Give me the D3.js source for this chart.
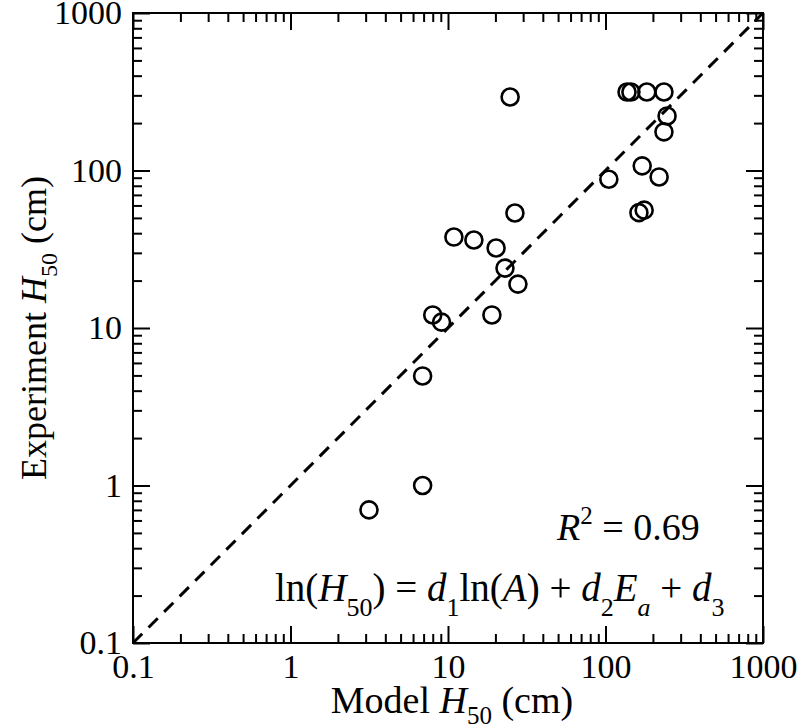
<!DOCTYPE html>
<html lang="en">
<head>
    <meta charset="UTF-8">
    <title>Model vs Experiment H50</title>
    <script src="https://d3js.org/d3.v7.min.js"></script>
    <style>
        body {
            margin: 0;
            background: #fff;
        }
        svg {
            font-family: "Liberation Serif", "Times New Roman", serif;
        }
    </style>
</head>
<body>
    <div id="chart"></div>
    <script>
        // Model vs experiment H50 (cm)
        var modelH50 = [3.15, 6.9, 6.9, 8.0, 9.1, 10.9, 14.6, 20.2, 23, 26.6, 27.8, 19,
                        24.8, 105, 137, 145, 183, 235, 246, 235, 171, 219, 163, 176];
        var expH50 = [0.70, 1.0, 4.96, 12.1, 10.9, 37.8, 36.2, 32.2, 24, 53.7, 19, 12.1,
                      293, 88, 315, 315, 315, 315, 222, 176, 107, 91, 54, 56];

        var majorTicks = [0.1, 1, 10, 100, 1000];
        var majorTickLabels = ["0.1", "1", "10", "100", "1000"];

        var width = 800,
            height = 728,
            pLeft = 133, pRight = 763,
            pTop = 13, pBottom = 643;

        var svg = d3.select("#chart").append("svg")
            .attr("width", width)
            .attr("height", height);

        var x = d3.scaleLog().domain([0.1, 1000]).range([pLeft, pRight]);
        var y = d3.scaleLog().domain([0.1, 1000]).range([pBottom, pTop]);

        var minorTicks = x.ticks().filter(d => majorTicks.indexOf(d) < 0);

        function labelOf(d) {
            return majorTickLabels[majorTicks.indexOf(d)];
        }

        // ticks pointing inward on all four sides
        function addAxis(axisFn, scale, transform, vals, size, fmt) {
            var g = svg.append("g")
                .attr("transform", transform)
                .call(axisFn(scale).tickValues(vals).tickSize(size).tickPadding(11).tickFormat(fmt));
            g.select(".domain").remove();
            g.selectAll("line").attr("stroke", "#000").attr("stroke-width", 2);
            g.attr("font-family", null).attr("font-size", null);
            g.selectAll("text").attr("fill", "#000").style("font-size", "34px");
            return g;
        }

        addAxis(d3.axisBottom, x, `translate(0,${pBottom})`, majorTicks, -17, labelOf);
        addAxis(d3.axisBottom, x, `translate(0,${pBottom})`, minorTicks, -9, "");
        addAxis(d3.axisTop, x, `translate(0,${pTop})`, majorTicks, -17, "");
        addAxis(d3.axisTop, x, `translate(0,${pTop})`, minorTicks, -9, "");
        addAxis(d3.axisLeft, y, `translate(${pLeft},0)`, majorTicks, -17, labelOf);
        addAxis(d3.axisLeft, y, `translate(${pLeft},0)`, minorTicks, -9, "");
        addAxis(d3.axisRight, y, `translate(${pRight},0)`, majorTicks, -17, "");
        addAxis(d3.axisRight, y, `translate(${pRight},0)`, minorTicks, -9, "");

        // frame
        svg.append("rect")
            .attr("x", pLeft)
            .attr("y", pTop)
            .attr("width", pRight - pLeft)
            .attr("height", pBottom - pTop)
            .attr("fill", "none")
            .attr("stroke", "#000")
            .attr("stroke-width", 2);

        // 1:1 line
        svg.append("line")
            .attr("x1", x(0.1)).attr("y1", y(0.1))
            .attr("x2", x(1000)).attr("y2", y(1000))
            .attr("stroke", "#000")
            .attr("stroke-width", 3)
            .attr("stroke-dasharray", "13,9");

        // data points
        svg.append("g")
            .selectAll("circle")
            .data(modelH50)
            .join("circle")
            .attr("cx", d => x(d))
            .attr("cy", (d, i) => y(expH50[i]))
            .attr("r", 8.5)
            .attr("fill", "none")
            .attr("stroke", "#000")
            .attr("stroke-width", 2.6);

        // rich text helper: pieces of [text, italic, sub/sup]
        function richText(el, pieces, shift, small) {
            var cur = 0;
            pieces.forEach(function(p) {
                var want = p[2] === "sub" ? shift : p[2] === "sup" ? -shift : 0;
                var t = el.append("tspan")
                    .attr("dy", want - cur)
                    .text(p[0]);
                if (p[1]) t.style("font-style", "italic");
                if (p[2]) t.style("font-size", small);
                cur = want;
            });
        }

        // axis titles
        var xt = svg.append("text")
            .attr("x", 452)
            .attr("y", 713)
            .attr("text-anchor", "middle")
            .style("font-size", "38px");
        richText(xt, [["Model "], ["H", true], ["50", false, "sub"], [" (cm)"]], 11, "25px");

        var yt = svg.append("text")
            .attr("transform", `translate(46,${(pTop + pBottom) / 2}) rotate(-90)`)
            .attr("text-anchor", "middle")
            .style("font-size", "36px");
        richText(yt, [["Experiment "], ["H", true], ["50", false, "sub"], [" (cm)"]], 11, "24px");

        // annotations
        var r2 = svg.append("text")
            .attr("x", 557)
            .attr("y", 540)
            .style("font-size", "38px");
        richText(r2, [["R", true], ["2", false, "sup"], [" = 0.69"]], 16, "25px");

        var eq = svg.append("text")
            .attr("x", 275)
            .attr("y", 601)
            .style("font-size", "39px");
        richText(eq, [
            ["ln("], ["H", true], ["50", false, "sub"], [") = "],
            ["d", true], ["1", false, "sub"], ["ln("], ["A", true], [") + "],
            ["d", true], ["2", false, "sub"], ["E", true], ["a", true, "sub"],
            [" + "], ["d", true], ["3", false, "sub"]
        ], 15, "26px");
    </script>
</body>
</html>
